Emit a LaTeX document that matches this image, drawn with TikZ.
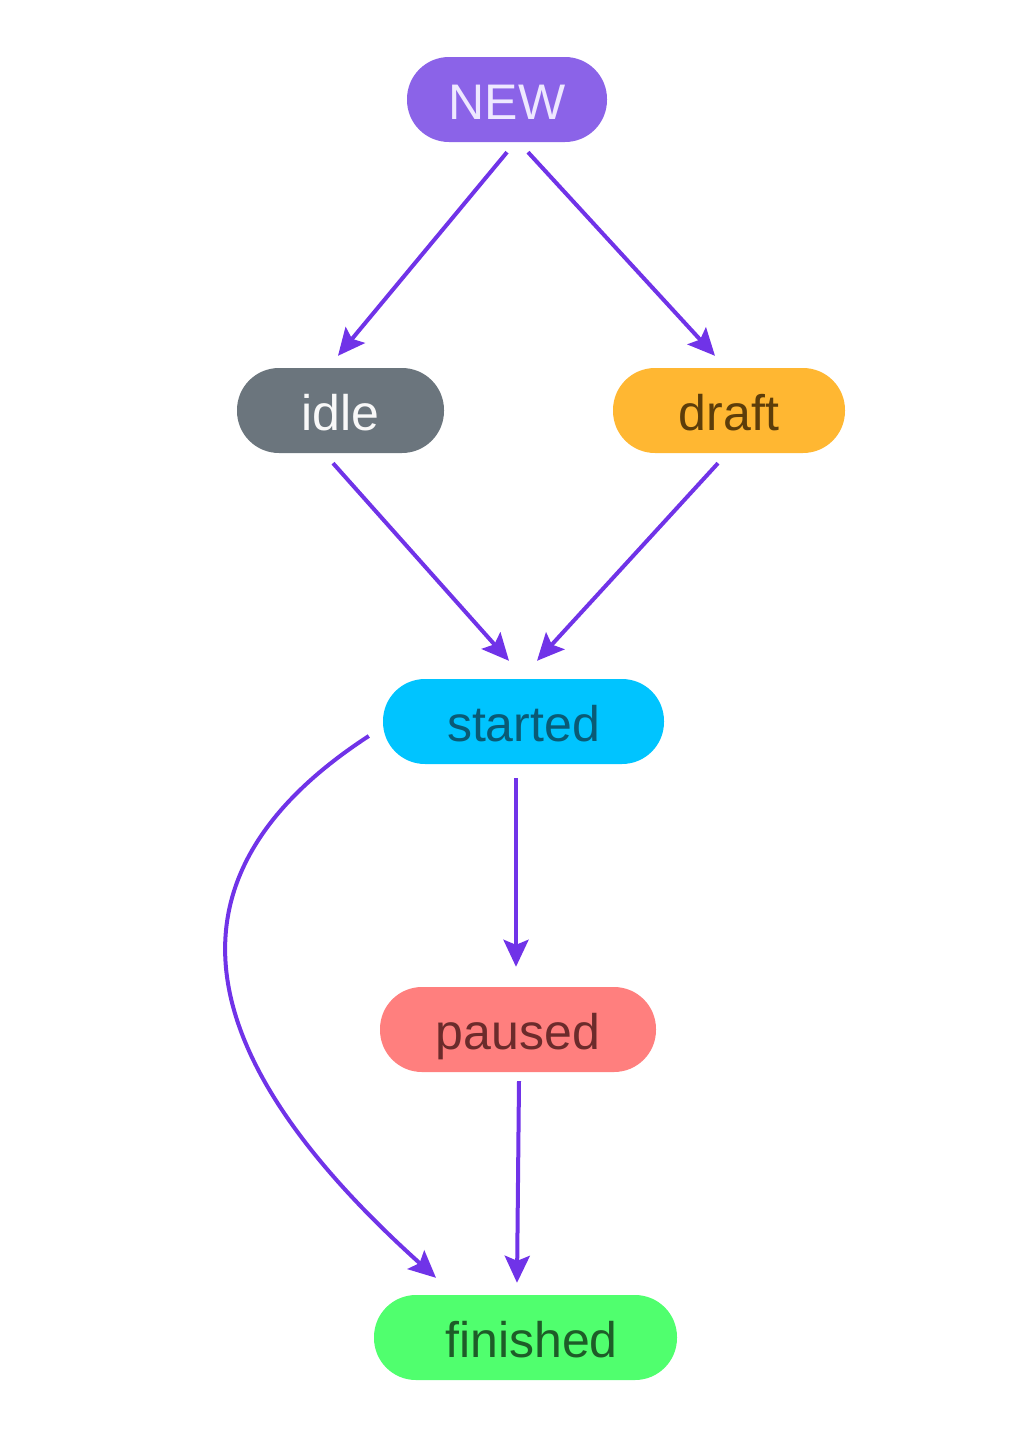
\documentclass[tikz,border=0pt]{standalone}
\usepackage{fontspec}
\setmainfont{Liberation Sans}
\usetikzlibrary{arrows.meta,calc}
\definecolor{arrowc}{HTML}{7033E8}
\definecolor{newfill}{HTML}{8B63E8}
\definecolor{newtext}{HTML}{EEE8FF}
\definecolor{idlefill}{HTML}{6B757D}
\definecolor{idletext}{HTML}{F8F8F8}
\definecolor{draftfill}{HTML}{FFB732}
\definecolor{drafttext}{HTML}{5C3D0A}
\definecolor{startfill}{HTML}{00C4FF}
\definecolor{starttext}{HTML}{0A5A75}
\definecolor{pausefill}{HTML}{FF7F7E}
\definecolor{pausetext}{HTML}{6B2B2B}
\definecolor{finfill}{HTML}{50FF6E}
\definecolor{fintext}{HTML}{1E5C28}
\tikzset{
  state/.style={rounded corners=42pt, minimum height=85pt, inner sep=0pt,
    text height=39pt, text depth=0pt,
    font=\fontsize{50}{60}\selectfont},
  conn/.style={draw=arrowc, line width=4pt,
    -{Stealth[length=27pt,width=25pt,inset=5pt]}}
}
\begin{document}
\begin{tikzpicture}[x=1pt,y=-1pt]
\useasboundingbox (0,0) rectangle (1024,1438);
\node[state, fill=newfill, text=newtext, minimum width=200pt] (new) at (507,99.5) {NEW};
\node[state, fill=idlefill, text=idletext, minimum width=207pt] (idle) at (340.5,410.5) {idle\hspace{4pt}};
\node[state, fill=draftfill, text=drafttext, minimum width=232pt] (draft) at (729,410.5) {draft};
\node[state, fill=startfill, text=starttext, minimum width=281pt] (started) at (523.5,721.5) {started};
\node[state, fill=pausefill, text=pausetext, minimum width=276pt] (paused) at (518,1029.5) {paused};
\node[state, fill=finfill, text=fintext, minimum width=303pt] (finished) at (525.5,1337.5) {\hspace{12pt}finished};

\draw[conn] ($(new.south)+(0,10)$) -- ($(idle.north)+(-2.5,-12)$);
\draw[conn] ($(new.south)+(21,10)$) -- ($(draft.north)+(-14,-12)$);
\draw[conn] ($(idle.south)+(-7.5,10)$) -- ($(started.north)+(-14.5,-18)$);
\draw[conn] ($(draft.south)+(-11,10)$) -- ($(started.north)+(13.5,-18)$);
\draw[conn] ($(started.south)+(-7.5,14)$) -- ($(paused.north)+(-2,-20)$);
\draw[conn] ($(paused.south)+(1,9)$) -- ($(finished.north)+(-8.5,-12)$);
\draw[conn] ($(started.west)+(-14,14.5)$) .. controls (139,885.5) and (206,1071) .. ($(finished.north)+(-89.5,-17)$);
\end{tikzpicture}
\end{document}
